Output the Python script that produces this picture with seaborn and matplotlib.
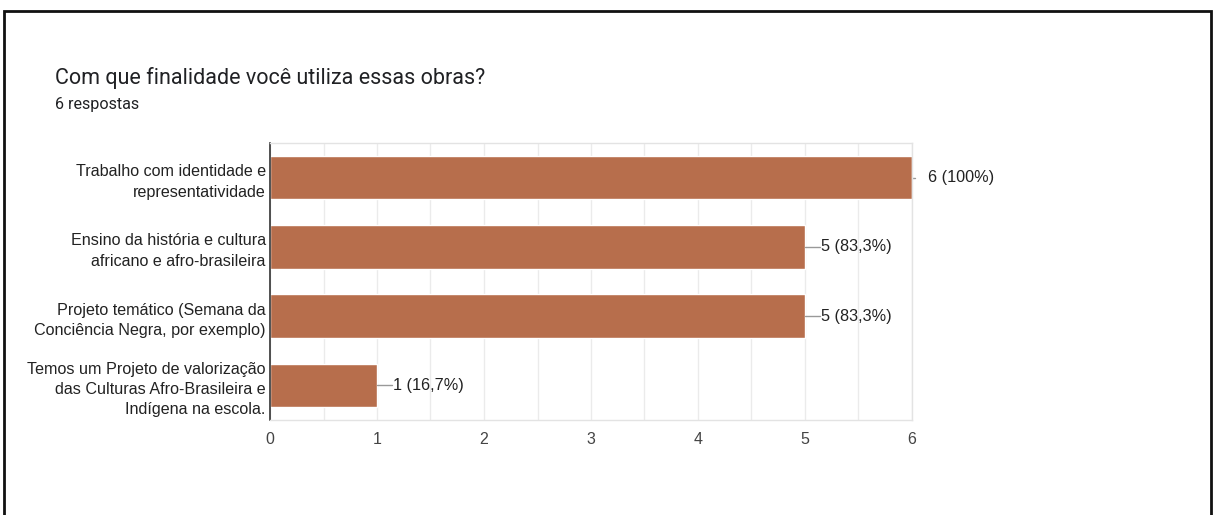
import seaborn as sns
import pandas as pd
import matplotlib.pyplot as plt
from matplotlib.ticker import MultipleLocator
from matplotlib.patches import Rectangle

categories = [
    "Trabalho com identidade e\nrepresentatividade",
    "Ensino da história e cultura\nafricano e afro-brasileira",
    "Projeto temático (Semana da\nConciência Negra, por exemplo)",
    "Temos um Projeto de valorização\ndas Culturas Afro-Brasileira e\nIndígena na escola.",
]
counts = [6, 5, 5, 1]
labels = ["6 (100%)", "5 (83,3%)", "5 (83,3%)", "1 (16,7%)"]

df = pd.DataFrame({"cat": categories, "n": counts})

sns.set_style("white")
plt.rcParams["font.family"] = ["Liberation Sans", "DejaVu Sans"]

fig = plt.figure(figsize=(12.14, 5.15), dpi=100)
W, H = 1214, 515
ax = fig.add_axes([270 / W, 1 - 420 / H, (912 - 270) / W, (420 - 143) / H])

sns.barplot(data=df, x="n", y="cat", color="#b76e4c", saturation=1,
            width=0.63, ax=ax, orient="h")

ax.set_xlim(0, 6)
ax.set_ylim(3.5, -0.5)
ax.xaxis.set_major_locator(MultipleLocator(1))
ax.xaxis.set_minor_locator(MultipleLocator(0.5))
ax.grid(axis="x", which="both", color="#ebebeb", linewidth=1)
ax.set_axisbelow(True)
ax.set_xlabel("")
ax.set_ylabel("")
ax.tick_params(axis="y", length=0, pad=3, labelsize=11.6, labelcolor="#222222")
ax.tick_params(axis="x", which="both", length=0, pad=9, labelsize=11.5, labelcolor="#444444")
for t in ax.get_yticklabels():
    t.set_linespacing(1.45)

for s in ["top", "right", "bottom"]:
    ax.spines[s].set_color("#e3e3e3")
    ax.spines[s].set_linewidth(1)
ax.spines["left"].set_color("#333333")
ax.spines["left"].set_linewidth(1.2)

# value labels with short leader lines
px = 6 / (912 - 270)
for i, (v, lab) in enumerate(zip(counts, labels)):
    if v == max(counts):
        ax.plot([v, v + 3 * px], [i, i], color="#999999", lw=1, clip_on=False)
        ax.text(v + 16 * px, i, lab, va="center", ha="left", fontsize=11.7,
                color="#222222", clip_on=False)
    else:
        ax.plot([v, v + 15 * px], [i, i], color="#999999", lw=1, clip_on=False)
        ax.text(v + 16 * px, i, lab, va="center", ha="left", fontsize=11.7,
                color="#222222", clip_on=False)

fig.text(55 / W, 1 - 78 / H, "Com que finalidade você utiliza essas obras?",
         fontsize=15.5, color="#202124", family=["Roboto", "DejaVu Sans"], va="center")
fig.text(55 / W, 1 - 105 / H, "6 respostas", fontsize=11.6, color="#202124",
         family=["Roboto", "DejaVu Sans"], va="center")

# outer frame
fig.patches.append(Rectangle((4 / W, -0.1), (1211 - 4) / W, 1.1 - 10.5 / H,
                             transform=fig.transFigure, fill=False,
                             edgecolor="#111111", linewidth=2))

fig.savefig("out.png", dpi=100)
